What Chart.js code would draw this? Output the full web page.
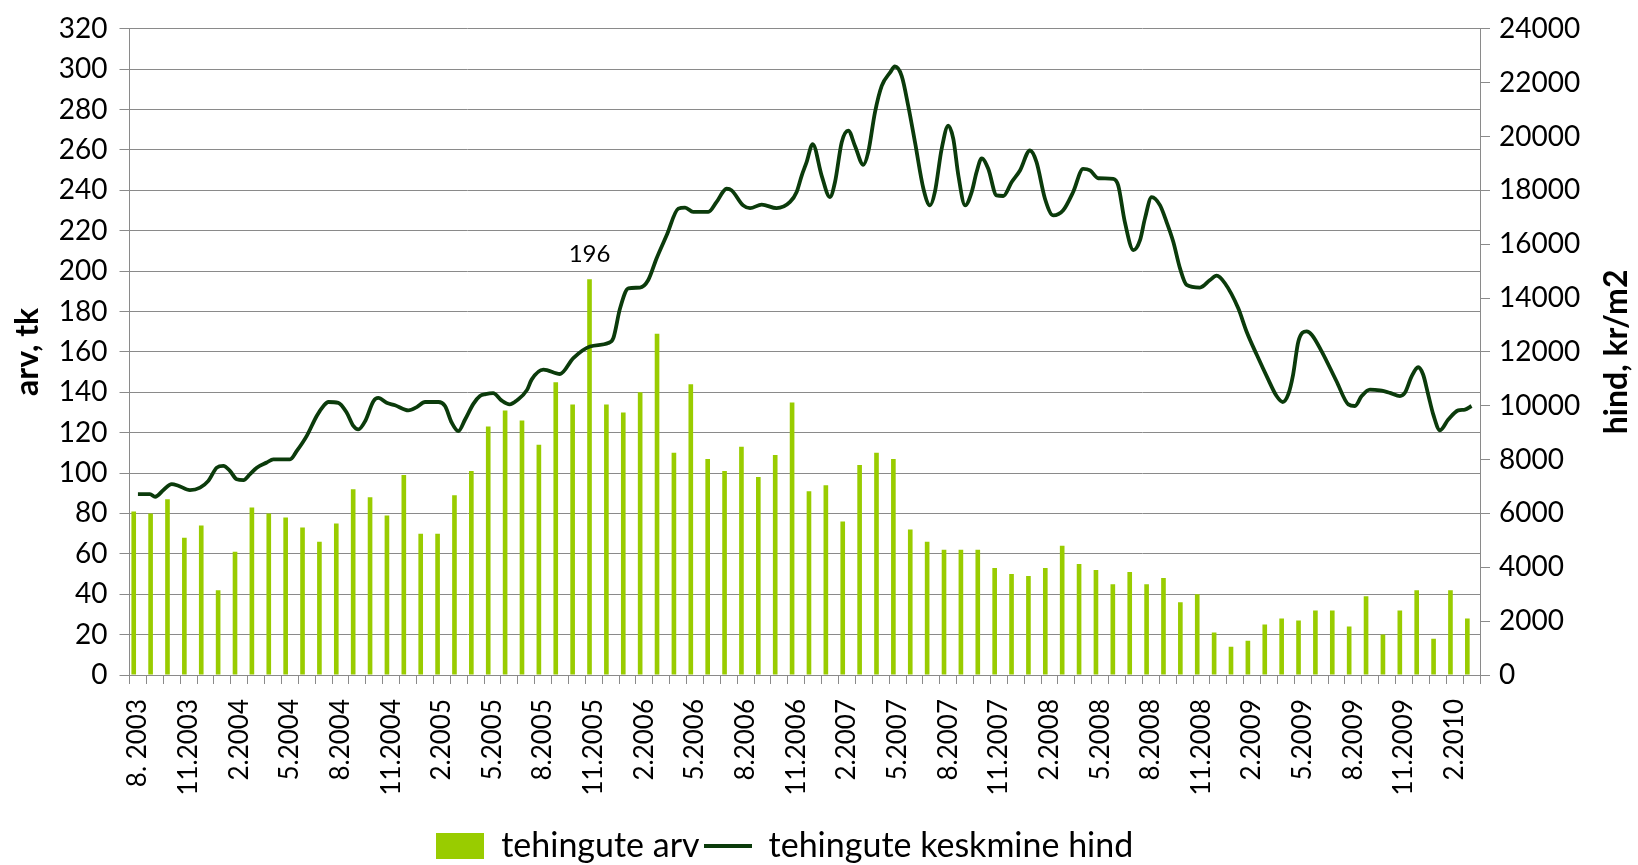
<!DOCTYPE html>
<html><head><meta charset="utf-8">
<script src="https://cdn.jsdelivr.net/npm/chart.js@4.4.0/dist/chart.umd.min.js"></script>
<style>html,body{margin:0;padding:0;background:#fff;overflow:hidden}#wrap{width:1638px;height:865px}</style>
</head><body><div id="wrap"><canvas id="c" width="1638" height="865"></canvas></div>
<script>
const categories = ["8. 2003","9.2003","10.2003","11.2003","12.2003",
"1.2004","2.2004","3.2004","4.2004","5.2004","6.2004","7.2004","8.2004","9.2004","10.2004","11.2004","12.2004",
"1.2005","2.2005","3.2005","4.2005","5.2005","6.2005","7.2005","8.2005","9.2005","10.2005","11.2005","12.2005",
"1.2006","2.2006","3.2006","4.2006","5.2006","6.2006","7.2006","8.2006","9.2006","10.2006","11.2006","12.2006",
"1.2007","2.2007","3.2007","4.2007","5.2007","6.2007","7.2007","8.2007","9.2007","10.2007","11.2007","12.2007",
"1.2008","2.2008","3.2008","4.2008","5.2008","6.2008","7.2008","8.2008","9.2008","10.2008","11.2008","12.2008",
"1.2009","2.2009","3.2009","4.2009","5.2009","6.2009","7.2009","8.2009","9.2009","10.2009","11.2009","12.2009",
"1.2010","2.2010","3.2010"];

const dealCount = [81,80,87,68,74,42,61,83,80,78,
73,66,75,92,88,79,99,70,70,89,
101,123,131,126,114,145,134,196,134,130,
140,169,110,144,107,101,113,98,109,135,
91,94,76,104,110,107,72,66,62,62,
62,53,50,49,53,64,55,52,45,51,
45,48,36,40,21,14,17,25,28,27,
32,32,24,39,20,32,42,18,42,28];

// average price: position along the month axis (category index) and value, kr/m2
const priceMonth = [0,0.71,1.02,1.51,2.0,2.39,3.08,3.68,4.17,4.67,5.06,5.45,5.85,6.25,6.64,7.04,7.63,8.02,9.01,9.41,
10.0,10.59,10.99,11.28,11.87,12.37,12.76,13.05,13.46,13.95,14.24,14.73,15.23,16.02,16.52,17.01,17.8,18.19,18.59,18.98,
19.38,19.87,20.26,20.59,21.04,21.53,22.02,22.45,23.05,23.32,24.02,25.0,25.79,26.78,27.86,28.16,28.56,29.05,29.74,30.23,
30.72,31.32,32.01,32.41,32.89,33.79,34.28,34.87,35.17,35.85,36.26,36.95,37.83,38.63,39.02,39.32,39.61,39.97,40.5,40.99,
41.29,41.69,42.08,42.47,42.97,43.26,43.66,44.06,44.55,44.84,45.24,45.63,46.03,46.53,46.92,47.21,47.61,48.0,48.3,48.6,
49.0,49.39,49.68,49.98,50.37,50.86,51.26,51.76,52.25,52.84,53.23,53.73,54.22,54.81,55.4,55.99,56.4,56.89,57.78,58.07,
58.46,58.97,59.36,59.65,60.05,60.54,60.93,61.33,61.73,62.12,62.91,63.51,63.9,64.39,65.18,65.67,66.27,66.96,67.45,67.81,
68.14,68.43,68.74,69.23,69.53,70.12,71.0,71.7,72.09,72.49,72.98,73.57,74.16,74.76,75.05,75.45,75.84,76.13,76.43,76.73,
77.13,77.62,78.21,78.61,79.0];
const priceValue = [6720,6720,6620,6870,7090,7030,6870,6960,7210,7700,7770,7580,7270,7240,7460,7700,7890,8010,8010,8320,
8880,9620,9990,10140,10110,9740,9250,9120,9430,10170,10290,10110,10020,9830,9950,10140,10140,9990,9370,9060,
9490,10070,10360,10430,10470,10200,10050,10200,10590,10970,11340,11180,11770,12200,12330,12510,13620,14360,14390,14670,
15470,16330,17320,17360,17200,17200,17570,18060,18000,17440,17340,17470,17340,17570,17940,18550,19050,19720,18550,17750,
18300,19790,20220,19660,18950,19420,20900,21880,22370,22600,22250,21140,19790,18060,17440,17940,19540,20400,19910,18550,
17440,17940,18680,19190,18800,17810,17790,18310,18740,19480,19050,17690,17070,17260,17940,18800,18740,18450,18430,18180,
16830,15780,16150,16950,17750,17450,16830,16090,15100,14490,14390,14670,14830,14550,13620,12760,11900,10970,10360,10140,
10420,11160,12390,12760,12640,12020,10910,10050,9990,10360,10600,10570,10480,10360,10480,11090,11430,11160,10420,9680,
9090,9490,9830,9860,9990];

const leftTicks = {min: 0, max: 320, step: 20};
const rightTicks = {min: 0, max: 24000, step: 2000};
const seriesNames = ["tehingute arv", "tehingute keskmine hind"];
const axisTitles = ["arv, tk", "hind, kr/m2"];

const BAR = '#99cc00', LINE = '#0b3b0b', GRID = '#8a8a8a';
const FONT = 'Lato, "Open Sans", sans-serif';

function swatch(kind){
  const c = document.createElement('canvas'); c.width = 48; c.height = 26;
  const g = c.getContext('2d');
  if (kind === 'bar') { g.fillStyle = BAR; g.fillRect(0,0,48,26); }
  else { g.fillStyle = LINE; g.fillRect(0,11,48,4); }
  return c;
}

const dataLabelPlugin = {
  id: 'maxLabel',
  afterDatasetsDraw(chart){
    const meta = chart.getDatasetMeta(0);
    const maxV = Math.max(...dealCount);
    const i = dealCount.indexOf(maxV);
    const el = meta.data[i];
    const ctx = chart.ctx;
    ctx.save();
    ctx.font = '24px ' + FONT; ctx.fillStyle = '#000';
    ctx.textAlign = 'center'; ctx.textBaseline = 'middle';
    ctx.fillText(String(maxV), el.x, el.y - 25);
    ctx.restore();
  }
};
const rightTitlePlugin = {
  id: 'rightTitle',
  afterDraw(chart){
    const ca = chart.chartArea, ctx = chart.ctx;
    ctx.save();
    ctx.translate(1617, (ca.top + ca.bottom)/2);
    ctx.rotate(-Math.PI/2);
    ctx.font = 'bold 32px ' + FONT; ctx.fillStyle = '#000';
    ctx.textAlign = 'center'; ctx.textBaseline = 'middle';
    ctx.fillText(axisTitles[1], 0, 0);
    ctx.restore();
  }
};
const legendShift = {
  id: 'legendShift',
  beforeDraw(chart){
    const ca = chart.chartArea, lg = chart.legend;
    if (lg) { lg.left = ca.left - 20; lg.right = ca.right - 20; }
  }
};

new Chart(document.getElementById('c'), {
  data: {
    labels: categories,
    datasets: [
      {type:'bar', label: seriesNames[0], data: dealCount, backgroundColor: BAR, borderWidth: 0,
       xAxisID:'x', yAxisID:'y', categoryPercentage: 1, barPercentage: 0.55, order: 1},
      {type:'line', label: seriesNames[1], data: priceMonth.map((m,i)=>({x:m, y:priceValue[i]})),
       xAxisID:'xl', yAxisID:'y1', borderColor: LINE, borderWidth: 3.8, pointRadius: 0,
       cubicInterpolationMode: 'monotone', fill: false, order: 0}
    ]
  },
  options: {
    responsive: false, animation: false, devicePixelRatio: 1,
    layout: {padding: {top: 25, left: 0, right: 0, bottom: -8}},
    plugins: {
      tooltip: {enabled: false},
      legend: {
        position: 'bottom', fullSize: false,
        labels: {
          font: {family: FONT, size: 34}, color: '#000', padding: 4,
          usePointStyle: true, pointStyleWidth: 48, boxHeight: 26,
          generateLabels(){
            return [
              {text: seriesNames[0], pointStyle: swatch('bar'), fillStyle: BAR, strokeStyle: BAR, lineWidth: 0, datasetIndex: 0, hidden: false},
              {text: seriesNames[1], pointStyle: swatch('line'), fillStyle: LINE, strokeStyle: LINE, lineWidth: 0, datasetIndex: 1, hidden: false}
            ];
          }
        }
      }
    },
    scales: {
      x: {
        type: 'category', offset: true,
        grid: {display: true, drawOnChartArea: false, drawTicks: true, tickLength: 9, color: GRID, offset: true},
        border: {display: true, color: GRID},
        ticks: {autoSkip: false, maxRotation: 90, minRotation: 90, padding: 15,
          font: {family: FONT, size: 26}, color: '#000',
          callback: (v, i) => i % 3 === 0 ? categories[i] : ''},
        afterFit: s => { s.height = 150; }
      },
      xl: {type: 'linear', display: false, min: -0.5, max: 79.5},
      y: {
        position: 'left', min: leftTicks.min, max: leftTicks.max,
        ticks: {stepSize: leftTicks.step, font: {family: FONT, size: 28}, color: '#000', padding: 12},
        grid: {color: GRID, tickLength: 10},
        border: {display: true, color: GRID},
        title: {display: true, text: axisTitles[0], font: {family: FONT, size: 32, weight: 'bold'}, color: '#000', padding: {top: 8, bottom: 0}},
        afterFit: s => { s.width = 129.5; }
      },
      y1: {
        position: 'right', min: rightTicks.min, max: rightTicks.max,
        ticks: {stepSize: rightTicks.step, font: {family: FONT, size: 28}, color: '#000', padding: 9,
          callback: v => String(v)},
        grid: {drawOnChartArea: false, color: GRID, tickLength: 10},
        border: {display: true, color: GRID},
        afterFit: s => { s.width = 158; }
      }
    }
  },
  plugins: [dataLabelPlugin, rightTitlePlugin, legendShift]
});
</script></body></html>
